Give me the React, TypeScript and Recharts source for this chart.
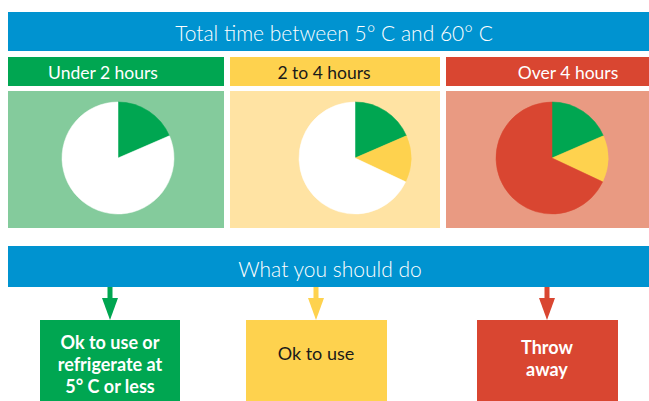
import React from "react";
import { PieChart, Pie, Cell } from "recharts";

const categories = ["Under 2 hours", "2 to 4 hours", "Over 4 hours"];
const sliceValues = [18.5, 13.5, 68];
const title = "Total time between 5° C and 60° C";
const subtitle = "What you should do";
const actions = [
  ["Ok to use or", "refrigerate at", "5° C or less"],
  ["Ok to use"],
  ["Throw", "away"],
];

const BLUE = "#0093D0";
const strong = ["#00A651", "#FED24E", "#D94631"];
const light = ["#84CB9C", "#FFE3A3", "#E99A82"];
const headerText = ["#ffffff", "#1a1a1a", "#ffffff"];
const actionText = ["#ffffff", "#1a1a1a", "#ffffff"];

const headerX = [[8, 224], [230, 440], [446, 649]];
const headerLabelX = [103, 324, 568];
const pieCx = [118, 355, 552];
const boxX = [[40, 180], [246, 387], [477, 618]];
const boxCx = [110, 316, 547];

const font = "Lato, 'Open Sans', 'Noto Sans', sans-serif";

function pieData(idx: number) {
  const shown = sliceValues.slice(0, idx + 1).map((v, i) => ({
    name: categories[i],
    value: v,
    fill: strong[i],
  }));
  const rest = sliceValues.slice(idx + 1).reduce((a, b) => a + b, 0);
  if (rest > 0) shown.push({ name: "Not reached", value: rest, fill: "#ffffff" });
  return shown;
}

export default function App() {
  return (
    <div style={{ position: "absolute", left: 0, top: 0, width: 649, height: 401, background: "#fff", overflow: "hidden" }}>
      <svg width={649} height={401} style={{ position: "absolute", left: 0, top: 0 }}>
        <rect x={8} y={12} width={641} height={39} fill={BLUE} />
        <text x={334} y={32} fill="#fff" fontFamily={font} fontWeight={300} fontSize={21} textAnchor="middle" dominantBaseline="central">{title}</text>
        {categories.map((c, i) => (
          <g key={c}>
            <rect x={headerX[i][0]} y={57} width={headerX[i][1] - headerX[i][0]} height={29} fill={strong[i]} />
            <text x={headerLabelX[i]} y={72} fill={headerText[i]} fontFamily={font} fontSize={17.5} textAnchor="middle" dominantBaseline="central">{c}</text>
            <rect x={headerX[i][0]} y={91} width={headerX[i][1] - headerX[i][0]} height={137} fill={light[i]} />
          </g>
        ))}
        <rect x={8} y={246} width={641} height={41} fill={BLUE} />
        <text x={330} y={268} fill="#fff" fontFamily={font} fontWeight={300} fontSize={21} textAnchor="middle" dominantBaseline="central">{subtitle}</text>
        {actions.map((lines, i) => (
          <g key={i}>
            <rect x={boxCx[i] - 2.5} y={287} width={5} height={12} fill={strong[i]} />
            <polygon points={`${boxCx[i] - 8},298 ${boxCx[i] + 8},298 ${boxCx[i]},320`} fill={strong[i]} />
            <rect x={boxX[i][0]} y={320} width={boxX[i][1] - boxX[i][0]} height={90} fill={strong[i]} />
            {lines.map((l, j) => (
              <text
                key={j}
                x={boxCx[i]}
                y={(i === 0 ? 342 : i === 1 ? 353 : 347) + j * 22}
                fill={actionText[i]}
                fontFamily={font}
                fontWeight={i === 1 ? 400 : 700}
                fontSize={18}
                textAnchor="middle"
                dominantBaseline="central"
              >
                {l}
              </text>
            ))}
          </g>
        ))}
      </svg>
      <div style={{ position: "absolute", left: 0, top: 0 }}>
        <PieChart width={649} height={401} margin={{ top: 0, right: 0, bottom: 0, left: 0 }}>
          {categories.map((c, idx) => (
            <Pie
              key={c}
              data={pieData(idx)}
              dataKey="value"
              nameKey="name"
              cx={pieCx[idx]}
              cy={158}
              outerRadius={56}
              innerRadius={0}
              startAngle={90}
              endAngle={-270}
              isAnimationActive={false}
            >
              {pieData(idx).map((d, k) => (
                <Cell key={k} fill={d.fill} stroke={d.fill} strokeWidth={0.5} />
              ))}
            </Pie>
          ))}
        </PieChart>
      </div>
    </div>
  );
}
